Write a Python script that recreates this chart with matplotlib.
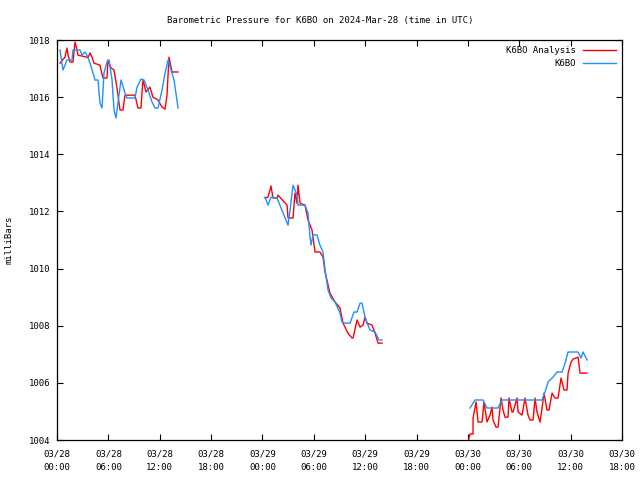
import matplotlib
matplotlib.use("Agg")
from matplotlib import pyplot as plt
import numpy as np

nan = np.nan

# hours since 2024-03-28 00:00 UTC, pressure in mb ; nan = gap in data
ana_t = [0.35, 0.93, 1.17, 1.29, 1.52, 1.87, 2.10, 2.34, 2.45, 3.50, 3.62, 3.86, 4.09, 4.32, 5.02, 5.37,
         5.84, 5.96, 6.31, 6.66, 7.01, 7.36, 7.71, 7.94, 9.11, 9.46, 9.81, 9.93, 10.05, 10.40, 10.86, 11.21,
         11.80, 12.27, 12.62, 12.85, 13.08, 13.32, 13.43, 14.14, nan,
         24.30, 24.65, 25.00, 25.23, 25.70, 25.82, 26.87, 26.99, 27.57, 27.80, 28.04, 28.15, 28.39, 28.97,
         29.32, 29.79, 30.14, 30.72, 31.07, 31.31, 31.89, 32.48, 33.06, 33.41, 33.99, 34.46, 34.58, 35.05,
         35.40, 35.75, 35.98, 36.21, 36.80, 37.15, 37.50, 37.97, nan,
         48.00, 48.25, 48.60, 48.60, 48.95, 49.18, 49.65, 49.88, 50.23, 50.58, 50.82, 50.93, 51.29, 51.52, 51.87,
         52.10, 52.34, 52.69, 52.80, 53.15, 53.27, 53.74, 53.86, 54.32, 54.67, 55.02, 55.26, 55.61, 55.84,
         56.07, 56.43, 56.66, 56.89, 57.24, 57.48, 57.83, 58.18, 58.53, 58.88, 59.23, 59.58, 59.70, 60.05,
         60.28, 60.86, 61.10, 61.92]
ana_p = [1017.19, 1017.40, 1017.72, 1017.47, 1017.23, 1017.23, 1017.93, 1017.65, 1017.47, 1017.40, 1017.37,
         1017.55, 1017.40, 1017.19, 1017.12, 1016.67, 1016.67, 1017.30, 1017.02, 1016.95, 1016.32, 1015.55,
         1015.55, 1016.07, 1016.07, 1015.62, 1015.62, 1016.18, 1016.60, 1016.18, 1016.35, 1016.00, 1015.90,
         1015.65, 1015.58, 1016.07, 1017.40, 1017.05, 1016.88, 1016.88, nan,
         1012.47, 1012.50, 1012.89, 1012.47, 1012.47, 1012.57, 1012.22, 1011.77, 1011.77, 1012.64, 1012.29,
         1012.92, 1012.29, 1012.22, 1011.70, 1011.35, 1010.58, 1010.58, 1010.40, 1009.88, 1009.14, 1008.83,
         1008.62, 1008.09, 1007.74, 1007.57, 1007.57, 1008.20, 1007.95, 1008.02, 1008.30, 1008.09, 1008.02,
         1007.74, 1007.39, 1007.39, nan,
         1003.90, 1004.21, 1004.21, 1004.77, 1005.33, 1004.63, 1004.63, 1005.33, 1004.63, 1004.87, 1005.15, 1004.70,
         1004.45, 1004.45, 1005.47, 1005.05, 1004.80, 1004.80, 1005.47, 1004.98, 1004.98, 1005.47, 1004.98,
         1004.87, 1005.47, 1004.87, 1004.70, 1004.70, 1005.47, 1004.98, 1004.63, 1005.12, 1005.64, 1005.05,
         1005.05, 1005.64, 1005.47, 1005.47, 1006.17, 1005.75, 1005.75, 1006.34, 1006.73, 1006.83, 1006.90,
         1006.34, 1006.34]

obs_t = [0.35, 0.70, 1.17, 1.75, 1.87, 2.69, 2.92, 3.27, 3.50, 3.86, 4.21, 4.44, 4.79, 5.02, 5.26, 5.49,
         5.84, 6.07, 6.43, 6.66, 6.89, 7.13, 7.48, 7.94, 8.18, 9.11, 9.35, 9.81, 10.16, 10.63, 11.10, 11.45,
         11.80, 12.27, 12.62, 12.97, 13.43, 13.67, 14.14, nan,
         24.30, 24.65, 25.00, 25.70, 26.99, 27.22, 27.57, 28.04, 28.15, 28.97, 29.32, 29.56, 29.67, 29.91,
         30.37, 30.72, 31.07, 31.31, 31.66, 32.01, 32.48, 33.06, 33.29, 33.64, 34.23, 34.70, 35.05, 35.40,
         35.63, 35.98, 36.33, 36.57, 37.15, 37.62, 37.97, nan,
         48.25, 48.83, 49.77, 50.23, 51.52, 51.99, 56.66, 57.01, 57.36, 57.94, 58.41, 59.00, 59.35, 59.70,
         60.86, 61.21, 61.45, 61.92]
obs_p = [1017.65, 1016.95, 1017.30, 1017.30, 1017.65, 1017.65, 1017.47, 1017.58, 1017.47, 1017.19, 1016.84,
         1016.60, 1016.60, 1015.79, 1015.62, 1016.84, 1017.23, 1017.30, 1016.60, 1015.55, 1015.27, 1015.83,
         1016.60, 1016.14, 1015.97, 1015.97, 1016.35, 1016.63, 1016.60, 1016.25, 1015.83, 1015.62, 1015.62,
         1016.25, 1016.84, 1017.30, 1016.84, 1016.60, 1015.62, nan,
         1012.50, 1012.22, 1012.50, 1012.47, 1011.52, 1012.05, 1012.92, 1012.57, 1012.22, 1012.22, 1011.94,
         1011.10, 1010.82, 1011.18, 1011.18, 1010.82, 1010.58, 1009.95, 1009.25, 1008.97, 1008.83, 1008.44,
         1008.13, 1008.09, 1008.09, 1008.48, 1008.48, 1008.79, 1008.79, 1008.30, 1008.02, 1007.85, 1007.78,
         1007.50, 1007.50, nan,
         1005.12, 1005.40, 1005.40, 1005.12, 1005.12, 1005.40, 1005.40, 1005.68, 1006.03, 1006.20, 1006.38,
         1006.38, 1006.69, 1007.08, 1007.08, 1006.87, 1007.08, 1006.80]

tick_hours = [0, 6, 12, 18, 24, 30, 36, 42, 48, 54, 60, 66]
tick_labels = ["03/28\n00:00", "03/28\n06:00", "03/28\n12:00", "03/28\n18:00",
               "03/29\n00:00", "03/29\n06:00", "03/29\n12:00", "03/29\n18:00",
               "03/30\n00:00", "03/30\n06:00", "03/30\n12:00", "03/30\n18:00"]
y_ticks = [1004, 1006, 1008, 1010, 1012, 1014, 1016, 1018]

plt.rcParams['font.family'] = 'DejaVu Sans Mono'
fs = 6.5

fig = plt.figure(figsize=(6.4, 4.8), dpi=100)
ax = fig.add_axes([57/640, 1 - 440/480, 565/640, 400/480])

ax.plot(ana_t, ana_p, color='#ff0000', lw=1.0, label='K6BO Analysis')
ax.plot(obs_t, obs_p, color='#1e90ff', lw=1.0, label='K6BO')

ax.set_xlim(0, 66)
ax.set_ylim(1004, 1018)
ax.set_xticks(tick_hours)
ax.set_xticklabels(tick_labels, fontsize=fs, linespacing=1.6)
ax.set_yticks(y_ticks)
ax.set_yticklabels([str(v) for v in y_ticks], fontsize=fs)
ax.tick_params(direction='in', length=4.5, width=0.8, top=True, right=True, pad=5)
ax.tick_params(axis='x', pad=7)
for s in ax.spines.values():
    s.set_linewidth(0.9)

ax.set_ylabel('milliBars', fontsize=fs, labelpad=11)
fig.text(0.5, 1 - 20/480, 'Barometric Pressure for K6BO on 2024-Mar-28 (time in UTC)',
         ha='center', va='center', fontsize=fs)

ax.legend(loc='upper right', frameon=False, markerfirst=False, fontsize=fs,
          handlelength=3.6, borderaxespad=0.3, labelspacing=0.45, handletextpad=0.8)

fig.savefig('out.png', dpi=100)
